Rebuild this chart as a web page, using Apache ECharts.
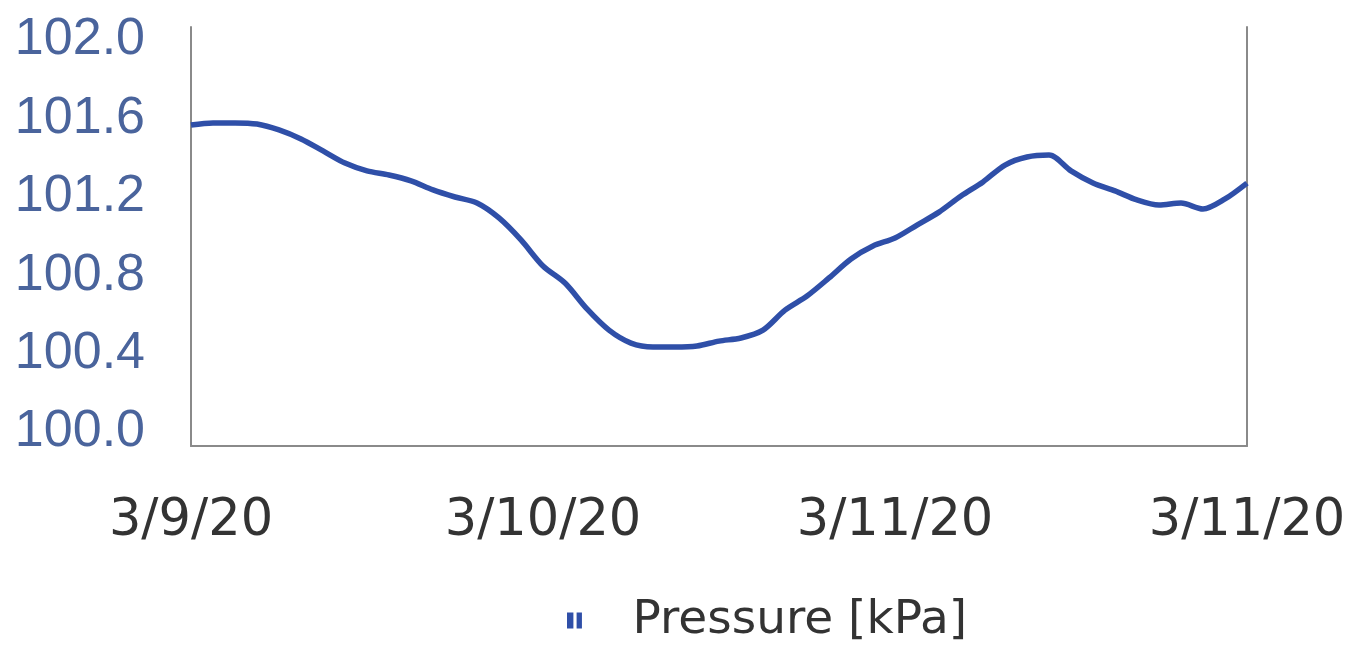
<!DOCTYPE html>
<html>
<head>
<meta charset="utf-8">
<script src="https://cdn.jsdelivr.net/npm/echarts@6/dist/echarts.min.js"></script>
<style>
  html, body { margin: 0; padding: 0; background: #fff; }
  #chart { width: 1364px; height: 651px; }
</style>
</head>
<body>
<div id="chart"></div>
<script>
// Pressure readings, one sample per step from 3/9/20 to 3/11/20
const pressure = [
  101.566, 101.577, 101.577, 101.571, 101.541, 101.495, 101.434, 101.372,
  101.332, 101.311, 101.281, 101.235, 101.199, 101.168, 101.092, 100.980,
  100.847, 100.760, 100.628, 100.520, 100.454, 100.434, 100.434, 100.439,
  100.464, 100.480, 100.520, 100.622, 100.694, 100.786, 100.883, 100.949,
  100.990, 101.056, 101.122, 101.204, 101.276, 101.362, 101.403, 101.413,
  101.332, 101.270, 101.230, 101.184, 101.158, 101.168, 101.138, 101.189,
  101.270
];
const dateLabels = ['3/9/20', '3/10/20', '3/11/20', '3/11/20'];
const yTicks = [100.0, 100.4, 100.8, 101.2, 101.6, 102.0];
const seriesName = 'Pressure [kPa]';

const labelEvery = (pressure.length - 1) / (dateLabels.length - 1);
const steps = pressure.map((_, i) => String(i));

const narrow = '"Liberation Sans", Arial, sans-serif';
const wide = '"DejaVu Sans", sans-serif';
const frame = { show: true, lineStyle: { color: '#8a8a8a', width: 2 } };

const chart = echarts.init(document.getElementById('chart'));
chart.setOption({
  backgroundColor: '#fff',
  animation: false,
  grid: { left: 191, right: 117, top: 27, bottom: 205 },
  legend: {
    left: 562,
    top: 592,
    icon: 'path://M0,0h6v15h-6z M9,0h5v15h-5z',
    itemWidth: 18,
    itemHeight: 16,
    textStyle: { fontFamily: wide, fontSize: 47, color: '#333', padding: [0, 0, 0, 44] },
    data: [seriesName]
  },
  xAxis: {
    type: 'category',
    data: steps,
    boundaryGap: false,
    axisLine: frame,
    axisTick: { show: false },
    axisLabel: {
      interval: labelEvery - 1,
      margin: 50,
      fontFamily: wide,
      fontSize: 51,
      color: '#333',
      formatter: (v, i) => dateLabels[Math.round(i / labelEvery)]
    },
    splitLine: { show: false }
  },
  yAxis: [
    {
      type: 'value',
      min: 99.929,
      max: 102.066,
      axisLine: frame,
      axisTick: { show: false },
      splitLine: { show: false },
      axisLabel: {
        customValues: yTicks,
        margin: 46,
        fontFamily: narrow,
        fontSize: 52,
        color: '#4a649c',
        formatter: v => v.toFixed(1)
      }
    },
    {
      type: 'value',
      position: 'right',
      min: 99.929,
      max: 102.066,
      axisLine: frame,
      axisTick: { show: false },
      axisLabel: { show: false },
      splitLine: { show: false }
    }
  ],
  series: [{
    name: seriesName,
    type: 'line',
    data: pressure,
    smooth: 0.3,
    symbol: 'none',
    itemStyle: { color: '#2f4fa8' },
    lineStyle: { color: '#2f4fa8', width: 5.5 }
  }]
});
</script>
</body>
</html>
